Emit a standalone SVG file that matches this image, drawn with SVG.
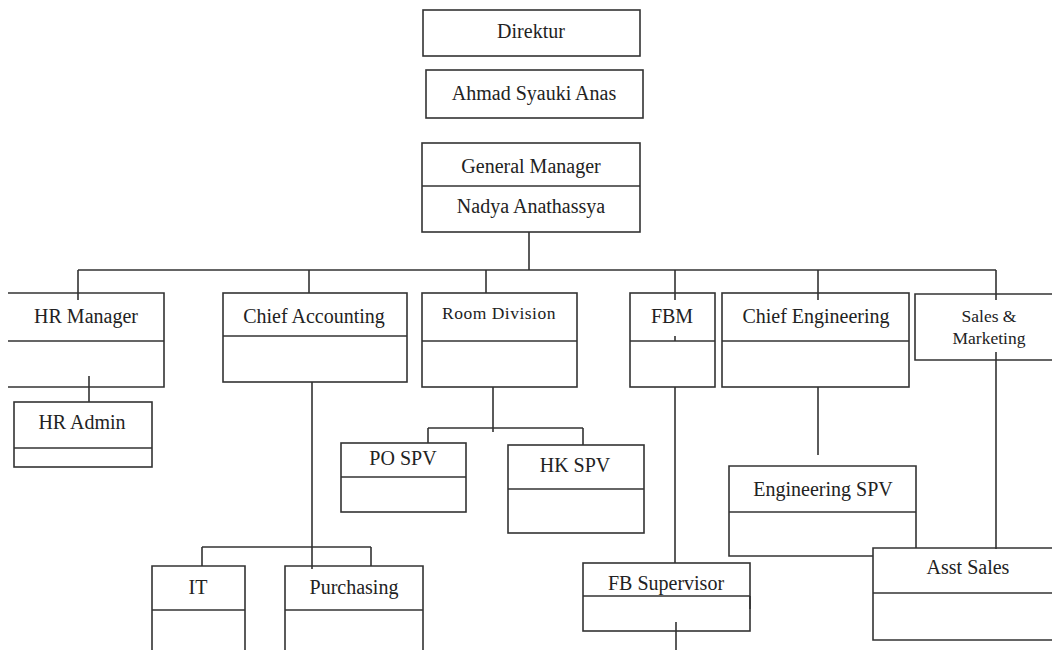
<svg xmlns="http://www.w3.org/2000/svg" width="1052" height="650" viewBox="0 0 1052 650">
<style>
.b{fill:#fff;stroke:#333;stroke-width:1.6}
.d{stroke:#333;stroke-width:1.6;fill:none}
.c{stroke:#333;stroke-width:1.6;fill:none}
text{font-size:20px;fill:#222;text-anchor:middle}
.s{font-size:17.5px}
</style>
<rect width="1052" height="650" fill="#fff"/>
<g id="connectors">
<path class="c" d="M529 227V270M78 270H996M78 270V300M309 270V300M486 270V300M675 270V300M818 270V300M996 270V300"/>
<path class="c" d="M89 376V402"/>
<path class="c" d="M312 377V569M202 547H371M202 547V566M371 547V566M204 610V636"/>
<path class="c" d="M493 377V432M428 428H583M428 428V443M583 428V449"/>
<path class="c" d="M675 336V341M675 387V563M676 622V650"/>
<path class="c" d="M818 376V455"/>
<path class="c" d="M996 352V548"/>
</g>
<g font-family="'Liberation Serif', 'Times New Roman', 'DejaVu Serif', serif">
<g id="direktur"><rect class="b" x="423" y="10" width="217" height="46"/><text x="531" y="38">Direktur</text></g>
<g id="ahmad"><rect class="b" x="426" y="70" width="217" height="48"/><text x="534" y="100">Ahmad Syauki Anas</text></g>
<g id="gm"><rect class="b" x="422" y="143" width="218" height="89"/><path class="d" d="M422 186H640"/><text x="531" y="173">General Manager</text><text x="531" y="213">Nadya Anathassya</text></g>
<g id="hr-manager"><path class="d" d="M8 293H164V387H8M8 341H164"/><text x="86" y="323">HR Manager</text></g>
<g id="hr-admin"><rect class="b" x="14" y="402" width="138" height="65"/><path class="d" d="M14 448H152"/><text x="82" y="429">HR Admin</text></g>
<g id="chief-accounting"><rect class="b" x="223" y="293" width="184" height="89"/><path class="d" d="M223 336H407"/><text x="314" y="323">Chief Accounting</text></g>
<g id="room-division"><rect class="b" x="422" y="293" width="155" height="94"/><path class="d" d="M422 341H577"/><text class="s" x="499" y="319" letter-spacing="0.5">Room Division</text></g>
<g id="po-spv"><rect class="b" x="341" y="443" width="125" height="69"/><path class="d" d="M341 477H466"/><text x="403" y="465">PO SPV</text></g>
<g id="hk-spv"><rect class="b" x="508" y="445" width="136" height="88"/><path class="d" d="M508 489H644"/><text x="575" y="472">HK SPV</text></g>
<g id="fbm"><rect class="b" x="630" y="293" width="85" height="94"/><path class="d" d="M630 341H715"/><path class="c" d="M675 293V300M675 336V341"/><text x="672" y="323">FBM</text></g>
<g id="chief-engineering"><rect class="b" x="722" y="293" width="187" height="94"/><path class="d" d="M722 341H909"/><path class="c" d="M818 293V300"/><text x="816" y="323">Chief Engineering</text></g>
<g id="sales-marketing"><path class="b" d="M1053 294H915V360H1053"/><path class="c" d="M996 294V300M996 352V360"/><text class="s" x="989" y="322">Sales &amp;</text><text class="s" x="989" y="344">Marketing</text></g>
<g id="engineering-spv"><path class="b" d="M873 556H729V466H916V548"/><path class="d" d="M729 512H916"/><text x="823" y="496">Engineering SPV</text></g>
<g id="it"><path class="b" d="M152 651V566H245V651"/><path class="d" d="M152 610H245"/><text x="198" y="594">IT</text></g>
<g id="purchasing"><path class="b" d="M285 651V566H423V651"/><path class="d" d="M285 610H423"/><path class="c" d="M312 566V569"/><text x="354" y="594">Purchasing</text></g>
<g id="fb-supervisor"><rect class="b" x="583" y="563" width="167" height="68"/><path class="d" d="M583 596H750M750 596V609"/><path class="c" d="M676 622V631"/><text x="666" y="590">FB Supervisor</text></g>
<g id="asst-sales"><path class="b" d="M1053 548H873V640H1053"/><path class="d" d="M873 593H1053"/><path class="c" d="M996 548V549"/><text x="968" y="574">Asst Sales</text></g>
</g>
</svg>
